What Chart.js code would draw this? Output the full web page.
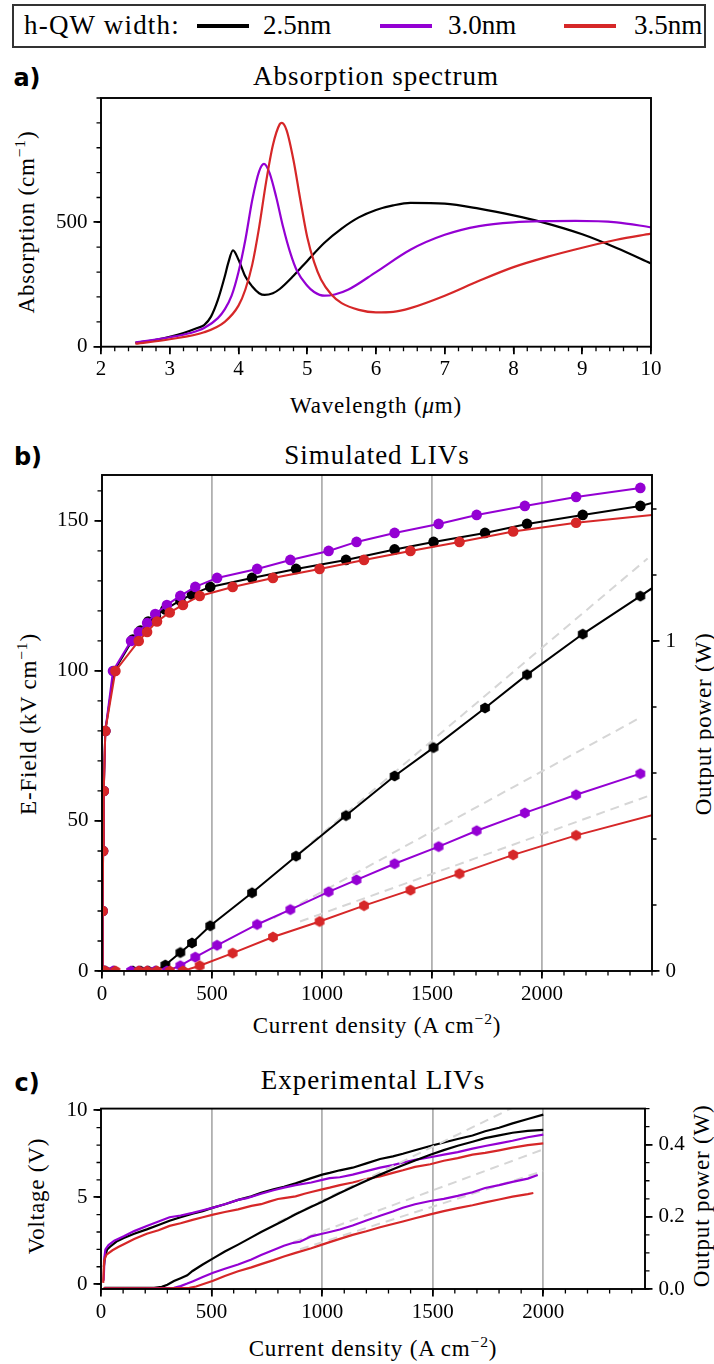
<!DOCTYPE html>
<html>
<head>
<meta charset="utf-8">
<script src="https://cdn.jsdelivr.net/npm/chart.js@4.4.1/dist/chart.umd.min.js"></script>
<style>
  body { margin: 0; background: #fff; width: 714px; height: 1364px; position: relative; overflow: hidden;
         font-family: "Liberation Serif", "DejaVu Serif", "Noto Serif", serif; color: #000; }
  .t { position: absolute; white-space: nowrap; line-height: 1; transform: translate(-50%, -50%); }
  .v { transform: translate(-50%, -50%) rotate(-90deg); }
  .tag { font-family: "DejaVu Sans", sans-serif; font-weight: bold; font-size: 24px; }
  .title { font-size: 27px; letter-spacing: 1px; }
  .lab { font-size: 23px; letter-spacing: 0.8px; }
  sup { font-size: 68%; vertical-align: 0.55em; line-height: 0; }
  canvas { position: absolute; left: 0; }
  #legend { position: absolute; left: 12px; top: 4px; width: 690px; height: 40px; border: 2px solid #333; font-size: 27px; }
  #legend span { position: absolute; top: 6px; line-height: 1; }
  #legend i { position: absolute; top: 18px; height: 3.5px; width: 52px; }
</style>
</head>
<body>

<div id="legend">
  <span style="left:10px;letter-spacing:1.2px">h-QW width:</span>
  <i style="left:183px;background:#000"></i><span style="left:249px">2.5nm</span>
  <i style="left:366px;background:#9400d3"></i><span style="left:434px">3.0nm</span>
  <i style="left:550px;background:#d62728"></i><span style="left:620px">3.5nm</span>
</div>

<div class="t tag" style="left:27px;top:78px">a)</div>
<div class="t title" style="left:376px;top:76px">Absorption spectrum</div>
<div class="t lab" style="left:376px;top:405px">Wavelength (<i>μ</i>m)</div>
<div class="t lab v" style="left:26px;top:222px">Absorption (cm<sup>−1</sup>)</div>

<div class="t tag" style="left:28px;top:457px">b)</div>
<div class="t title" style="left:377px;top:455px">Simulated LIVs</div>
<div class="t lab" style="left:377px;top:1025px">Current density (A cm<sup>−2</sup>)</div>
<div class="t lab v" style="left:28px;top:724px">E-Field (kV cm<sup>−1</sup>)</div>
<div class="t lab v" style="left:703px;top:724px">Output power (W)</div>

<div class="t tag" style="left:27px;top:1083px">c)</div>
<div class="t title" style="left:373px;top:1080px">Experimental LIVs</div>
<div class="t lab" style="left:373px;top:1348px">Current density (A cm<sup>−2</sup>)</div>
<div class="t lab v" style="left:36px;top:1196px">Voltage (V)</div>
<div class="t lab v" style="left:701px;top:1196px">Output power (W)</div>

<canvas id="chartA" width="714" height="330" style="top:60px"></canvas>
<canvas id="chartB" width="714" height="580" style="top:440px"></canvas>
<canvas id="chartC" width="714" height="274" style="top:1090px"></canvas>

<script>
const FONT = '"Liberation Serif", "DejaVu Serif", "Noto Serif", serif';
const C_25 = '#000000';
const C_30 = '#9400d3';
const C_35 = '#d62728';
const GRID_GRAY = '#b0b0b0';
const FIT_GRAY = '#d6d6d6';

// ---- a) absorption spectrum (wavelength in um, absorption in 1/cm)
const A_WL_25  = [2.5, 2.8, 3.0, 3.2, 3.4, 3.5, 3.6, 3.7, 3.8, 3.85, 3.92, 4.0, 4.1, 4.2, 4.3, 4.38, 4.5, 4.6, 4.8, 5.0, 5.25, 5.5, 5.75, 6.0, 6.25, 6.5, 7.0, 7.5, 8.0, 8.4, 9.0, 9.5, 10];
const A_ABS_25 = [16, 28, 40, 55, 75, 87, 121, 188, 282, 336, 387, 350, 282, 242, 215, 208, 215, 232, 285, 345, 418, 475, 520, 550, 568, 578, 575, 555, 528, 502, 452, 397, 335];
const A_WL_30  = [2.5, 3.0, 3.3, 3.5, 3.7, 3.8, 3.9, 4.0, 4.1, 4.2, 4.3, 4.37, 4.45, 4.55, 4.65, 4.75, 4.85, 5.0, 5.1, 5.25, 5.4, 5.6, 6.0, 6.5, 7.0, 7.5, 8.0, 8.5, 8.9, 9.5, 10];
const A_ABS_30 = [17, 38, 55, 75, 115, 150, 205, 300, 430, 590, 705, 735, 700, 600, 480, 380, 305, 245, 220, 205, 210, 230, 300, 390, 450, 485, 500, 505, 506, 500, 480];
const A_WL_35  = [2.5, 3.0, 3.5, 3.8, 4.0, 4.1, 4.2, 4.3, 4.4, 4.5, 4.6, 4.63, 4.7, 4.8, 4.9, 5.0, 5.1, 5.2, 5.35, 5.5, 5.75, 6.0, 6.25, 6.5, 7.0, 7.5, 8.0, 8.5, 9.0, 9.5, 10];
const A_ABS_35 = [12, 30, 58, 100, 165, 230, 330, 480, 660, 810, 895, 900, 870, 750, 590, 440, 340, 270, 210, 175, 148, 138, 140, 155, 205, 265, 320, 362, 398, 430, 455];

// ---- b) simulated LIVs (current density A/cm2, field kV/cm, power W)
const B_J_25 = [0, 3, 5, 8, 15, 55, 140, 175, 210, 245, 288, 356, 409, 492, 682, 882, 1109, 1330, 1507, 1741, 1932, 2185, 2447, 2500];
const B_E_25 = [0, 20, 40, 60, 80, 100, 110.5, 113.5, 116.5, 118.5, 120.5, 123.5, 125.5, 128, 131, 134, 137, 140.5, 143, 146, 149, 152, 155, 156];
const B_P_25 = [0, 0, 0, 0, 0, 0, 0, 0, 0, 0, 0.018, 0.056, 0.085, 0.137, 0.237, 0.348, 0.471, 0.591, 0.677, 0.797, 0.898, 1.021, 1.136, 1.16];
const B_J_30 = [0, 3, 5, 8, 15, 50, 132, 167, 205, 242, 295, 356, 424, 523, 705, 856, 1030, 1157, 1330, 1530, 1703, 1922, 2155, 2447];
const B_E_30 = [0, 20, 40, 60, 80, 100, 110, 113, 116, 119, 122, 125, 128, 131, 134, 137, 140, 143, 146, 149, 152, 155, 158, 161];
const B_P_30 = [0, 0, 0, 0, 0, 0, 0, 0, 0, 0, 0, 0.016, 0.042, 0.078, 0.141, 0.186, 0.240, 0.276, 0.325, 0.377, 0.425, 0.479, 0.534, 0.598];
const B_J_35 = [0, 3, 5, 8, 15, 61, 167, 205, 250, 308, 368, 444, 594, 777, 989, 1191, 1402, 1625, 1869, 2155, 2500];
const B_E_35 = [0, 20, 40, 60, 80, 100, 110, 113, 116.5, 119.5, 122, 125, 128, 131, 134, 137, 140, 143, 146.5, 149.4, 152];
const B_P_35 = [0, 0, 0, 0, 0, 0, 0, 0, 0, 0, 0, 0.016, 0.054, 0.103, 0.150, 0.198, 0.245, 0.295, 0.352, 0.411, 0.472];
// last simulated point sits on the frame without a marker
const B_MARK_LAST_25 = false, B_MARK_LAST_30 = true, B_MARK_LAST_35 = false;
// linear fits to the output power (dashed)
const B_FIT_J_25 = [900, 2480], B_FIT_P_25 = [0.36, 1.25];
const B_FIT_J_30 = [780, 2447], B_FIT_P_30 = [0.16, 0.768];
const B_FIT_J_35 = [900, 2482], B_FIT_P_35 = [0.15, 0.53];

// ---- c) experimental LIVs
const C_JV_25 = [13, 18, 28, 41, 70, 103, 150, 207, 260, 310, 360, 414, 460, 507, 560, 620, 680, 724, 780, 827, 880, 951, 1000, 1034, 1080, 1138, 1200, 1262, 1320, 1365, 1420, 1489, 1550, 1613, 1680, 1737, 1800, 1861, 1930, 2000];
const C_V_25  = [1.0, 1.6, 2.0, 2.15, 2.45, 2.65, 2.9, 3.15, 3.4, 3.65, 3.85, 4.05, 4.2, 4.4, 4.6, 4.85, 5.05, 5.25, 5.45, 5.6, 5.8, 6.1, 6.3, 6.4, 6.55, 6.7, 6.95, 7.2, 7.35, 7.5, 7.7, 7.95, 8.15, 8.35, 8.55, 8.8, 9.0, 9.25, 9.5, 9.75];
const C_JV_30 = [12, 16, 20, 34, 60, 103, 150, 207, 260, 310, 360, 414, 460, 507, 560, 620, 660, 724, 780, 827, 880, 951, 1000, 1034, 1080, 1138, 1200, 1262, 1320, 1365, 1420, 1489, 1550, 1613, 1680, 1737, 1800, 1861, 1930, 2000];
const C_V_30  = [0.2, 1.6, 2.0, 2.25, 2.5, 2.75, 3.05, 3.35, 3.6, 3.85, 3.95, 4.1, 4.25, 4.4, 4.6, 4.85, 4.95, 5.2, 5.4, 5.55, 5.7, 5.85, 6.0, 6.1, 6.15, 6.3, 6.5, 6.7, 6.85, 7.0, 7.15, 7.3, 7.45, 7.6, 7.8, 7.95, 8.1, 8.25, 8.45, 8.6];
const C_JV_35 = [10, 14, 25, 52, 80, 103, 150, 207, 260, 310, 360, 414, 460, 507, 560, 620, 680, 724, 760, 800, 827, 880, 920, 951, 1000, 1034, 1080, 1138, 1200, 1262, 1320, 1365, 1420, 1489, 1550, 1613, 1680, 1737, 1800, 1861, 1930, 2000];
const C_V_35  = [0.07, 1.35, 1.7, 1.95, 2.15, 2.3, 2.6, 2.9, 3.1, 3.35, 3.5, 3.7, 3.85, 4.0, 4.15, 4.3, 4.5, 4.6, 4.75, 4.9, 4.95, 5.05, 5.2, 5.3, 5.45, 5.55, 5.7, 5.85, 6.05, 6.2, 6.4, 6.55, 6.75, 6.9, 7.1, 7.25, 7.45, 7.55, 7.7, 7.85, 8.0, 8.1];
const C_JP_25 = [15, 150, 240, 275, 300, 330, 360, 390, 414, 460, 507, 560, 620, 680, 724, 780, 827, 880, 951, 1000, 1034, 1080, 1138, 1200, 1262, 1320, 1365, 1420, 1489, 1550, 1613, 1680, 1737, 1800, 1861, 1930, 2000];
const C_P_25  = [0.003, 0.003, 0.003, 0.006, 0.012, 0.022, 0.03, 0.038, 0.05, 0.068, 0.085, 0.104, 0.123, 0.143, 0.158, 0.175, 0.19, 0.207, 0.228, 0.242, 0.252, 0.266, 0.283, 0.3, 0.317, 0.332, 0.343, 0.356, 0.372, 0.385, 0.397, 0.408, 0.418, 0.426, 0.433, 0.438, 0.441];
const C_JP_30 = [15, 200, 330, 360, 390, 414, 460, 507, 560, 620, 680, 724, 780, 827, 870, 900, 951, 1000, 1034, 1080, 1138, 1200, 1262, 1320, 1365, 1420, 1489, 1550, 1613, 1680, 1737, 1800, 1861, 1930, 1975];
const C_P_30  = [0.002, 0.002, 0.003, 0.008, 0.015, 0.021, 0.033, 0.045, 0.056, 0.068, 0.082, 0.094, 0.108, 0.12, 0.128, 0.131, 0.146, 0.153, 0.158, 0.165, 0.176, 0.19, 0.203, 0.215, 0.225, 0.235, 0.244, 0.25, 0.258, 0.268, 0.28, 0.288, 0.297, 0.306, 0.316];
const C_JP_35 = [10, 300, 400, 430, 460, 507, 560, 620, 680, 724, 780, 827, 880, 951, 1000, 1034, 1080, 1138, 1200, 1262, 1320, 1365, 1420, 1489, 1550, 1613, 1680, 1737, 1800, 1861, 1930, 1955];
const C_P_35  = [0.002, 0.002, 0.003, 0.007, 0.013, 0.023, 0.036, 0.049, 0.06, 0.069, 0.08, 0.09, 0.1, 0.113, 0.123, 0.13, 0.139, 0.15, 0.16, 0.171, 0.18, 0.187, 0.196, 0.207, 0.216, 0.224, 0.232, 0.24, 0.248, 0.256, 0.263, 0.266];
const C_FIT_J_25 = [800, 1870], C_FIT_P_25 = [0.185, 0.505];
const C_FIT_J_30 = [870, 2000], C_FIT_P_30 = [0.13, 0.387];
const C_FIT_J_35 = [900, 2000], C_FIT_P_35 = [0.11, 0.327];

// ---- ticks
const A_X_TICKS = [2, 3, 4, 5, 6, 7, 8, 9, 10];
const A_Y_TICKS = [0, 500];
const B_X_TICKS = [0, 500, 1000, 1500, 2000];
const B_Y_TICKS = [0, 50, 100, 150];
const B_Y2_TICKS = [0, 1];
const C_X_TICKS = [0, 500, 1000, 1500, 2000];
const C_Y_TICKS = [0, 5, 10];
const C_Y2_TICKS = [0, 0.2, 0.4];

const pts = (xs, ys) => xs.map((x, i) => ({ x, y: ys[i] }));

function hexMarker(color, r) {
  const c = document.createElement('canvas');
  const s = Math.ceil(2 * r + 2);
  c.width = c.height = s;
  const g = c.getContext('2d');
  g.fillStyle = color;
  g.beginPath();
  for (let k = 0; k < 6; k++) {
    const a = -Math.PI / 2 + k * Math.PI / 3;
    const px = s / 2 + r * Math.cos(a), py = s / 2 + r * Math.sin(a);
    k ? g.lineTo(px, py) : g.moveTo(px, py);
  }
  g.closePath();
  g.fill();
  return c;
}

// minor ticks + frame drawn on top of the data
const frameTicks = {
  id: 'frameTicks',
  afterDraw(chart, args, opts) {
    const { ctx, chartArea: ca } = chart;
    ctx.save();
    ctx.strokeStyle = '#000';
    ctx.lineWidth = 1.3;
    ctx.beginPath();
    (opts.minor || []).forEach(m => {
      const sc = chart.scales[m.axis];
      for (let i = 0; ; i++) {
        const v = m.from + i * m.step;
        if (v > m.to + 1e-9) break;
        const p = sc.getPixelForValue(v);
        if (sc.position === 'bottom') { ctx.moveTo(p, ca.bottom); ctx.lineTo(p, ca.bottom + 4.5); }
        else if (sc.position === 'left') { ctx.moveTo(ca.left, p); ctx.lineTo(ca.left - 4.5, p); }
        else { ctx.moveTo(ca.right, p); ctx.lineTo(ca.right + 4.5, p); }
      }
    });
    ctx.stroke();
    ctx.lineWidth = 1.9;
    ctx.strokeRect(ca.left, ca.top, ca.right - ca.left, ca.bottom - ca.top);
    ctx.restore();
  }
};

function axis(o) {
  return {
    type: 'linear',
    position: o.position,
    min: o.min,
    max: o.max,
    afterFit: s => { if (s.isHorizontal()) s.height = o.size; else s.width = o.size; },
    afterBuildTicks: s => { s.ticks = o.ticks.map(v => ({ value: v })); },
    ticks: {
      font: { family: FONT, size: 21 },
      color: '#000',
      padding: o.pad,
      maxRotation: 0,
      autoSkip: false,
      callback: o.fmt || (v => String(v)),
    },
    grid: {
      drawOnChartArea: !!o.grid,
      color: ctx => (o.grid && ctx.tick && ctx.tick.value > 0) ? GRID_GRAY : 'rgba(0,0,0,0)',
      lineWidth: 1.8,
      tickColor: '#000',
      tickLength: 7.5,
      tickWidth: 1.8,
    },
    border: { display: false },
  };
}

function line(data, color, extra) {
  return Object.assign({
    data,
    borderColor: color,
    backgroundColor: color,
    borderWidth: 2.2,
    pointRadius: 0,
    tension: 0,
    fill: false,
  }, extra || {});
}

function markers(n, r, markLast) {
  return Array.from({ length: n }, (_, i) => (i === n - 1 && !markLast) ? 0 : r);
}

const base = {
  responsive: false,
  animation: false,
  events: [],
  plugins: { legend: { display: false }, tooltip: { enabled: false }, title: { display: false } },
};

// ---------- a)
new Chart(document.getElementById('chartA'), {
  type: 'line',
  data: {
    datasets: [
      line(pts(A_WL_35, A_ABS_35), C_35, { cubicInterpolationMode: 'monotone' }),
      line(pts(A_WL_30, A_ABS_30), C_30, { cubicInterpolationMode: 'monotone' }),
      line(pts(A_WL_25, A_ABS_25), C_25, { cubicInterpolationMode: 'monotone' }),
    ],
  },
  options: Object.assign({}, base, {
    layout: { padding: { top: 38, right: 63, left: 0, bottom: 0 } },
    scales: {
      x: axis({ position: 'bottom', min: 2, max: 10, ticks: A_X_TICKS, size: 43.3, pad: 3 }),
      y: axis({ position: 'left', min: 0, max: 1000, ticks: A_Y_TICKS, size: 101, pad: 6 }),
    },
    plugins: Object.assign({}, base.plugins, {
      frameTicks: { minor: [{ axis: 'x', from: 2, to: 10, step: 0.2 }, { axis: 'y', from: 0, to: 1000, step: 100 }] },
    }),
  }),
  plugins: [frameTicks],
});

// ---------- b)
const circ = 5.3;
const hex = { k: hexMarker(C_25, 5.6), p: hexMarker(C_30, 5.6), r: hexMarker(C_35, 5.6) };
function pointsOpt(color, n, markLast, style) {
  return {
    pointRadius: markers(n, circ, markLast),
    pointStyle: style || 'circle',
    pointBackgroundColor: color,
    pointBorderWidth: 0,
    borderWidth: 2,
  };
}
function fit(xs, ys, axisId) {
  return line(pts(xs, ys), FIT_GRAY, { yAxisID: axisId, borderDash: [9, 6], borderWidth: 2 });
}

new Chart(document.getElementById('chartB'), {
  type: 'line',
  data: {
    datasets: [
      // power (right axis) on top
      line(pts(B_J_35, B_P_35), C_35, Object.assign(pointsOpt(C_35, B_J_35.length, B_MARK_LAST_35, hex.r), { yAxisID: 'y2' })),
      line(pts(B_J_30, B_P_30), C_30, Object.assign(pointsOpt(C_30, B_J_30.length, B_MARK_LAST_30, hex.p), { yAxisID: 'y2' })),
      line(pts(B_J_25, B_P_25), C_25, Object.assign(pointsOpt(C_25, B_J_25.length, B_MARK_LAST_25, hex.k), { yAxisID: 'y2' })),
      fit(B_FIT_J_35, B_FIT_P_35, 'y2'),
      fit(B_FIT_J_30, B_FIT_P_30, 'y2'),
      fit(B_FIT_J_25, B_FIT_P_25, 'y2'),
      // field (left axis)
      line(pts(B_J_35, B_E_35), C_35, Object.assign(pointsOpt(C_35, B_J_35.length, B_MARK_LAST_35), { yAxisID: 'y' })),
      line(pts(B_J_30, B_E_30), C_30, Object.assign(pointsOpt(C_30, B_J_30.length, B_MARK_LAST_30), { yAxisID: 'y' })),
      line(pts(B_J_25, B_E_25), C_25, Object.assign(pointsOpt(C_25, B_J_25.length, B_MARK_LAST_25), { yAxisID: 'y' })),
    ],
  },
  options: Object.assign({}, base, {
    layout: { padding: { top: 35, right: 0, left: 0, bottom: 0 } },
    scales: {
      x: axis({ position: 'bottom', min: 0, max: 2500, ticks: B_X_TICKS, size: 49, pad: 3, grid: true }),
      y: axis({ position: 'left', min: 0, max: 165.3, ticks: B_Y_TICKS, size: 102, pad: 6 }),
      y2: axis({ position: 'right', min: 0, max: 1.503, ticks: B_Y2_TICKS, size: 62, pad: 6 }),
    },
    plugins: Object.assign({}, base.plugins, {
      frameTicks: { minor: [
        { axis: 'x', from: 0, to: 2500, step: 100 },
        { axis: 'y', from: 0, to: 160, step: 10 },
        { axis: 'y2', from: 0, to: 1.4, step: 0.2 },
      ] },
    }),
  }),
  plugins: [frameTicks],
});

// ---------- c)
new Chart(document.getElementById('chartC'), {
  type: 'line',
  data: {
    datasets: [
      line(pts(C_JP_35, C_P_35), C_35, { yAxisID: 'y2' }),
      line(pts(C_JP_30, C_P_30), C_30, { yAxisID: 'y2' }),
      line(pts(C_JP_25, C_P_25), C_25, { yAxisID: 'y2' }),
      fit(C_FIT_J_35, C_FIT_P_35, 'y2'),
      fit(C_FIT_J_30, C_FIT_P_30, 'y2'),
      fit(C_FIT_J_25, C_FIT_P_25, 'y2'),
      line(pts(C_JV_35, C_V_35), C_35, { yAxisID: 'y' }),
      line(pts(C_JV_30, C_V_30), C_30, { yAxisID: 'y' }),
      line(pts(C_JV_25, C_V_25), C_25, { yAxisID: 'y' }),
    ],
  },
  options: Object.assign({}, base, {
    layout: { padding: { top: 14, right: 0, left: 0, bottom: 0 } },
    scales: {
      x: axis({ position: 'bottom', min: 0, max: 2460, ticks: C_X_TICKS, size: 75, pad: 3, grid: true }),
      y: axis({ position: 'left', min: -0.28, max: 10.1, ticks: C_Y_TICKS, size: 101, pad: 6 }),
      y2: axis({ position: 'right', min: 0, max: 0.5, ticks: C_Y2_TICKS, size: 69, pad: 6, fmt: v => v.toFixed(1) }),
    },
    plugins: Object.assign({}, base.plugins, {
      frameTicks: { minor: [
        { axis: 'x', from: 0, to: 2400, step: 100 },
        { axis: 'y', from: 0, to: 10, step: 1 },
        { axis: 'y2', from: 0, to: 0.5, step: 0.05 },
      ] },
    }),
  }),
  plugins: [frameTicks],
});
</script>
</body>
</html>
